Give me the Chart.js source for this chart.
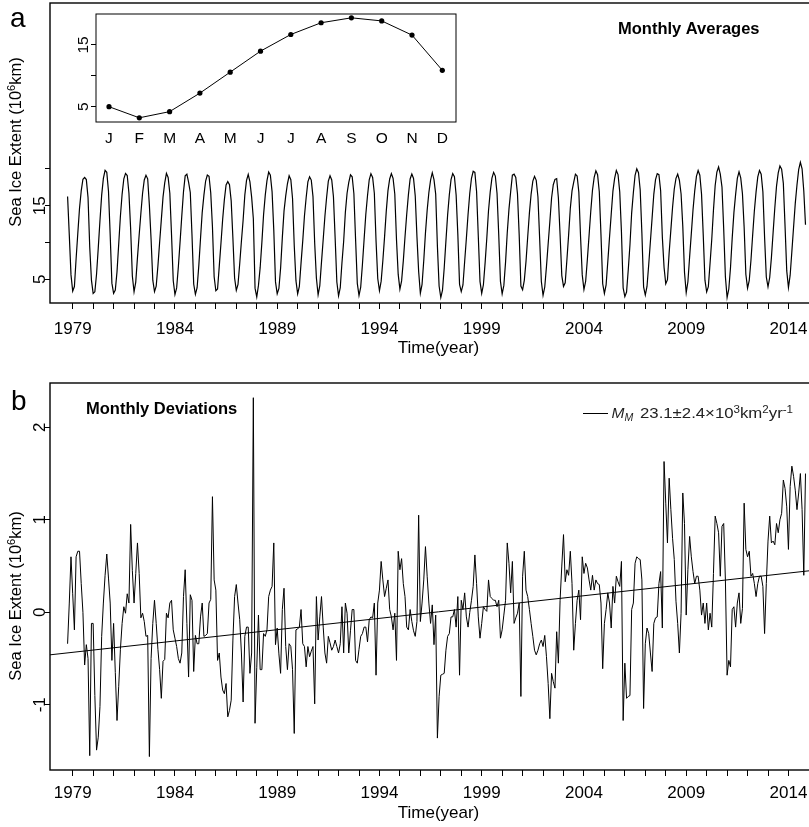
<!DOCTYPE html>
<html>
<head>
<meta charset="utf-8">
<script src="https://cdn.jsdelivr.net/npm/chart.js@4.4.1/dist/chart.umd.min.js"></script>
<style>
  html, body { margin: 0; padding: 0; background: #fff; overflow: hidden; width: 809px; height: 827px; }
  .panel { position: absolute; left: 0; }
</style>
</head>
<body>
<div class="panel" style="top:0;width:840px;height:370px"><canvas id="chartA"></canvas></div>
<div class="panel" style="top:370px;width:840px;height:457px"><canvas id="chartB"></canvas></div>
<div class="panel" style="top:0;width:470px;height:150px"><canvas id="inset"></canvas></div>
<script>
// monthly climatology (inset), 10^6 km2
const climatology = [5.0, 3.2, 4.2, 7.2, 10.6, 14.0, 16.7, 18.6, 19.4, 18.9, 16.6, 10.9];
const monthLetters = ['J', 'F', 'M', 'A', 'M', 'J', 'J', 'A', 'S', 'O', 'N', 'D'];

// axis ticks
const yearTickMarks = [1979, 1980, 1981, 1982, 1983, 1984, 1985, 1986, 1987, 1988, 1989, 1990,
  1991, 1992, 1993, 1994, 1995, 1996, 1997, 1998, 1999, 2000, 2001, 2002, 2003, 2004, 2005,
  2006, 2007, 2008, 2009, 2010, 2011, 2012, 2013, 2014];
const yearTickLabels = [1979, 1984, 1989, 1994, 1999, 2004, 2009, 2014];
const extentTicks = [5, 10, 15, 20];
const extentTickLabels = [5, 15];
const deviationTicks = [-1, 0, 1, 2];
const insetTicks = [5, 10, 15];
const insetTickLabels = [5, 15];

// linear trend of the deviations (M_M)
const trendYears = [1977.89, 2015.885];
const trendValues = [-0.46, 0.47];

// monthly deviations from the climatology, Nov 1978 .. Dec 2014
const monthlyDeviation = [
  -0.34, 0.10,                                                                   // 1978 Nov-Dec
  0.60, 0.20, -0.19, 0.60, 0.66, 0.66, 0.31, 0.00, -0.57, -0.35, -0.50, -1.55,   // 1979
  -0.12, -0.12, -0.90, -1.49, -1.35, -1.02, -0.26, 0.10, 0.40, 0.63, 0.37, 0.10, // 1980
  -0.52, -0.12, -0.65, -1.17, -0.80, -0.40, -0.12, 0.06, -0.01, 0.20, 0.10, 0.95, // 1981
  0.45, 0.10, 0.42, 0.75, 0.42, -0.06, -0.01, -0.10, -0.26, -0.25, -1.56, -0.50, // 1982
  -0.12, 0.13, -0.12, -0.40, -0.62, -0.93, -0.53, -0.51, -0.01, -0.06, 0.10, 0.13, // 1983
  -0.19, -0.28, -0.37, -0.50, -0.55, -0.44, 0.17, 0.46, -0.12, -0.70, 0.19, 0.13, // 1984
  -0.64, -0.25, -0.34, -0.34, -0.05, 0.10, -0.26, -0.25, -0.23, 0.10, 0.14, 1.25, // 1985
  0.35, 0.24, -0.52, -0.44, -0.70, -0.84, -0.88, -0.77, -1.13, -1.06, -0.95, -0.30, // 1986
  0.17, 0.30, 0.10, -0.08, -0.44, -0.97, -0.26, -0.16, -0.16, -0.66, -0.44, 2.32, // 1987
  -1.20, -0.60, -0.03, -0.62, -0.62, -0.23, -0.26, -0.19, 0.17, 0.24, 0.28, 0.75, // 1988
  -0.35, -0.17, -0.45, -0.66, 0.03, 0.26, -0.37, -0.62, -0.34, -0.37, -0.62, -1.31, // 1989
  -0.19, -0.18, -0.16, 0.03, -0.34, -0.37, -0.59, -0.37, -0.48, -0.42, -0.37, -0.99, // 1990
  0.17, -0.30, -0.05, 0.17, -0.16, -0.44, -0.55, -0.26, -0.33, -0.41, -0.37, -0.30, // 1991
  -0.37, -0.44, -0.34, 0.06, -0.44, 0.10, -0.01, -0.44, -0.20, 0.03, 0.03, -0.52, // 1992
  -0.55, -0.40, -0.26, -0.23, -0.16, -0.16, -0.32, -0.08, -0.05, -0.06, 0.10, -0.68, // 1993
  0.10, 0.24, 0.55, 0.35, 0.17, 0.26, 0.35, 0.03, -0.05, -0.19, -0.01, -0.52,    // 1994
  0.66, 0.46, 0.58, 0.31, 0.17, -0.16, -0.19, 0.03, -0.10, -0.20, -0.26, -0.10,  // 1995
  1.05, -0.10, 0.10, 0.35, 0.71, 0.39, 0.10, -0.12, 0.08, -0.35, -0.03, -1.36,   // 1996
  -0.91, -0.68, -0.67, -0.66, -0.41, -0.26, -0.23, -0.05, -0.05, 0.03, -0.16, 0.17, // 1997
  -0.68, 0.13, 0.03, 0.21, -0.05, -0.16, 0.00, 0.13, 0.28, 0.62, 0.31, -0.05,    // 1998
  -0.28, -0.12, 0.06, 0.03, 0.01, 0.35, 0.17, 0.15, 0.13, 0.13, 0.06, 0.13,      // 1999
  -0.28, -0.19, -0.03, 0.13, 0.75, 0.53, 0.21, 0.55, -0.12, -0.06, -0.01, 0.10,  // 2000
  -0.91, 0.39, 0.66, 0.24, 0.17, 0.03, -0.12, -0.26, -0.41, -0.46, -0.41, -0.34, // 2001
  -0.30, -0.37, -0.25, -0.48, -0.77, -1.15, -0.66, -0.75, -0.82, -0.21, -0.55, 0.13, // 2002
  0.50, 0.84, 0.33, 0.46, 0.40, 0.66, 0.31, -0.41, -0.12, 0.13, 0.24, -0.08,     // 2003
  0.60, 0.42, 0.53, 0.48, 0.35, 0.24, 0.40, 0.24, 0.35, 0.31, 0.30, 0.10,        // 2004
  -0.61, -0.12, 0.03, 0.21, 0.10, -0.17, 0.28, 0.10, 0.39, 0.33, 0.28, 0.55,     // 2005
  -1.17, -0.55, -0.93, -0.91, -0.90, 0.03, 0.10, 0.53, 0.60, 0.58, 0.57, 0.35,   // 2006
  -1.04, -0.34, -0.17, -0.23, -0.44, -0.64, -0.12, -0.06, -0.05, 0.31, 0.44, -0.17, // 2007
  1.63, 1.18, 0.75, 1.45, 1.11, 0.80, 0.57, 0.12, -0.12, -0.44, -0.01, 1.29,     // 2008
  0.96, -0.03, 0.46, 0.82, 0.60, 0.44, 0.31, 0.39, 0.39, 0.24, -0.03, 0.10,      // 2009
  -0.12, 0.10, -0.19, -0.01, -0.16, 0.42, 1.04, 0.96, 0.86, 0.39, 0.93, 0.96,    // 2010
  0.35, -0.68, -0.52, -0.59, 0.03, 0.06, -0.16, 0.10, 0.21, -0.12, 0.04, 1.18,   // 2011
  0.68, 0.60, 0.66, 0.39, 0.42, 0.31, 0.17, 0.31, 0.39, 0.39, 0.28, -0.23,       // 2012
  0.31, 0.77, 1.04, 0.75, 0.77, 0.73, 0.96, 0.86, 1.00, 1.07, 1.43, 1.34,        // 2013
  1.14, 0.68, 1.36, 1.58, 1.47, 1.32, 1.11, 1.29, 1.50, 1.11, 0.40, 1.50         // 2014
];

// first sample (Nov 1978) sits at 1978.75 on the time axis, one month per step
const firstTime = 1978.75;
const firstMonth = 10; // November, 0-based
const monthTime = monthlyDeviation.map((d, k) => firstTime + k / 12);
// extent = monthly average + deviation
const extent = monthlyDeviation.map((d, k) => climatology[(firstMonth + k) % 12] + d);

const FONT = '"Liberation Sans", Arial, Helvetica, sans-serif';
const X_MIN = 1977.89, X_MAX = 2015.885;

function rotText(ctx, txt, x, y, font) {
  ctx.save();
  ctx.translate(x, y);
  ctx.rotate(-Math.PI / 2);
  ctx.font = font;
  ctx.textAlign = 'center';
  ctx.textBaseline = 'alphabetic';
  ctx.fillText(txt, 0, 0);
  ctx.restore();
}

function piecesWidth(ctx, parts) {
  let w = 0;
  parts.forEach(p => { ctx.font = p.font; w += ctx.measureText(p.t).width; });
  return w;
}

// draws pieces of text one after another (superscripts etc.)
function pieces(ctx, parts, x, y, align) {
  const w = piecesWidth(ctx, parts);
  let cx = align === 'center' ? x - w / 2 : x;
  ctx.textAlign = 'left';
  ctx.textBaseline = 'alphabetic';
  parts.forEach(p => {
    ctx.font = p.font;
    ctx.fillText(p.t, cx, y + (p.dy || 0));
    cx += ctx.measureText(p.t).width;
  });
}

function yTitle(ctx, x, y) {
  ctx.save();
  ctx.translate(x, y);
  ctx.rotate(-Math.PI / 2);
  pieces(ctx, [
    { t: 'Sea Ice Extent (10', font: '16.5px ' + FONT },
    { t: '6', font: '11px ' + FONT, dy: -6 },
    { t: 'km)', font: '16.5px ' + FONT }
  ], 0, 0, 'center');
  ctx.restore();
}

function frame(ctx, ca, lw) {
  ctx.save();
  ctx.strokeStyle = '#000';
  ctx.lineWidth = lw;
  ctx.strokeRect(ca.left, ca.top, ca.right - ca.left, ca.bottom - ca.top);
  ctx.restore();
}

function yearLabels(chart, baseline) {
  const ctx = chart.ctx;
  ctx.fillStyle = '#000';
  ctx.font = '17px ' + FONT;
  ctx.textAlign = 'center';
  ctx.textBaseline = 'alphabetic';
  yearTickLabels.forEach(v => ctx.fillText(String(v), chart.scales.x.getPixelForValue(v), baseline));
}

function timeScale(height) {
  return {
    type: 'linear', min: X_MIN, max: X_MAX,
    afterBuildTicks: s => { s.ticks = yearTickMarks.map(v => ({ value: v })); },
    afterFit: s => { s.height = height; },
    ticks: { display: false },
    grid: { display: true, drawOnChartArea: false, drawTicks: true, tickLength: 6, color: '#000', lineWidth: 1 },
    border: { display: false }
  };
}

function valueScale(min, max, ticks, width) {
  return {
    type: 'linear', min: min, max: max,
    afterBuildTicks: s => { s.ticks = ticks.map(v => ({ value: v })); },
    afterFit: s => { s.width = width; },
    ticks: { display: false },
    grid: { display: true, drawOnChartArea: false, drawTicks: true, tickLength: 5, color: '#000', lineWidth: 1 },
    border: { display: false }
  };
}

const common = {
  responsive: true,
  maintainAspectRatio: false,
  animation: false,
  events: [],
  plugins: { legend: { display: false }, tooltip: { enabled: false } }
};

// ---- panel a ----
new Chart(document.getElementById('chartA'), {
  type: 'line',
  data: {
    datasets: [{
      data: extent.map((v, k) => ({ x: monthTime[k], y: v })),
      borderColor: '#000', borderWidth: 1.2, pointRadius: 0, tension: 0, fill: false
    }]
  },
  options: {
    ...common,
    layout: { autoPadding: false, padding: { top: 3, right: 13, left: 0, bottom: 0 } },
    scales: {
      x: timeScale(67),
      y: valueScale(1.78, 42.54, extentTicks, 50)
    }
  },
  plugins: [{
    id: 'panelA',
    afterDraw(chart) {
      const ctx = chart.ctx, ca = chart.chartArea;
      frame(ctx, ca, 1.4);
      ctx.fillStyle = '#000';
      yearLabels(chart, 334);
      extentTickLabels.forEach(v => rotText(ctx, String(v), 44.5, chart.scales.y.getPixelForValue(v), '17px ' + FONT));
      yTitle(ctx, 20.5, 142);
      ctx.font = '17px ' + FONT;
      ctx.textAlign = 'center';
      ctx.fillText('Time(year)', (ca.left + ca.right) / 2, 353);
      ctx.textAlign = 'left';
      ctx.font = '28px ' + FONT;
      ctx.fillText('a', 10, 27);
      ctx.font = 'bold 16.5px ' + FONT;
      ctx.fillText('Monthly Averages', 618, 33.5);
    }
  }]
});

// ---- panel b ----
new Chart(document.getElementById('chartB'), {
  type: 'line',
  data: {
    datasets: [{
      data: monthlyDeviation.map((v, k) => ({ x: monthTime[k], y: v })),
      borderColor: '#000', borderWidth: 1, pointRadius: 0, tension: 0, fill: false
    }, {
      data: trendYears.map((t, i) => ({ x: t, y: trendValues[i] })),
      borderColor: '#000', borderWidth: 1, pointRadius: 0, tension: 0, fill: false
    }]
  },
  options: {
    ...common,
    layout: { autoPadding: false, padding: { top: 13, right: 13, left: 0, bottom: 0 } },
    scales: {
      x: timeScale(57),
      y: valueScale(-1.705, 2.479, deviationTicks, 50)
    }
  },
  plugins: [{
    id: 'panelB',
    afterDraw(chart) {
      const ctx = chart.ctx, ca = chart.chartArea;
      frame(ctx, ca, 1.4);
      ctx.fillStyle = '#000';
      yearLabels(chart, 428);
      deviationTicks.forEach(v => rotText(ctx, String(v), 44.5, chart.scales.y.getPixelForValue(v), '17px ' + FONT));
      yTitle(ctx, 20.5, 226);
      ctx.font = '17px ' + FONT;
      ctx.textAlign = 'center';
      ctx.fillText('Time(year)', (ca.left + ca.right) / 2, 448);
      ctx.textAlign = 'left';
      ctx.font = '28px ' + FONT;
      ctx.fillText('b', 11, 40);
      ctx.font = 'bold 16.5px ' + FONT;
      ctx.fillText('Monthly Deviations', 86, 43.5);
      // legend
      ctx.beginPath();
      ctx.lineWidth = 1;
      ctx.strokeStyle = '#000';
      ctx.moveTo(583, 43.5);
      ctx.lineTo(608, 43.5);
      ctx.stroke();
      ctx.fillStyle = '#222';
      pieces(ctx, [
        { t: 'M', font: 'italic 15.5px ' + FONT },
        { t: 'M', font: 'italic 10.5px ' + FONT, dy: 3 }
      ], 611.5, 48, 'left');
      const big = '14.5px ' + FONT, small = '10px ' + FONT;
      const rate = [
        { t: '23.1\u00b12.4\u00d710', font: big },
        { t: '3', font: small, dy: -5 },
        { t: 'km', font: big },
        { t: '2', font: small, dy: -5 },
        { t: 'yr', font: big },
        { t: '-1', font: small, dy: -5 }
      ];
      // stretch to the span the rate text covers in the figure (640 to 793)
      const w = piecesWidth(ctx, rate);
      ctx.save();
      ctx.translate(640, 48);
      ctx.scale(153 / w, 1);
      pieces(ctx, rate, 0, 0, 'left');
      ctx.restore();
    }
  }]
});

// ---- inset: monthly averages ----
new Chart(document.getElementById('inset'), {
  type: 'line',
  data: {
    datasets: [{
      data: climatology.map((v, i) => ({ x: i + 1, y: v })),
      borderColor: '#000', borderWidth: 1, backgroundColor: '#000',
      pointRadius: 2.6, pointBorderWidth: 0, tension: 0, fill: false
    }]
  },
  options: {
    ...common,
    layout: { autoPadding: false, padding: { top: 14, right: 14, left: 0, bottom: 0 } },
    scales: {
      x: {
        type: 'linear', min: 0.571, max: 12.452,
        afterFit: s => { s.height = 28; },
        ticks: { display: false },
        grid: { display: false },
        border: { display: false }
      },
      y: valueScale(2.52, 20.02, insetTicks, 96)
    }
  },
  plugins: [{
    id: 'insetText',
    afterDraw(chart) {
      const ctx = chart.ctx, ca = chart.chartArea;
      frame(ctx, ca, 1);
      ctx.fillStyle = '#000';
      ctx.font = '15.5px ' + FONT;
      ctx.textAlign = 'center';
      ctx.textBaseline = 'alphabetic';
      monthLetters.forEach((m, i) => ctx.fillText(m, chart.scales.x.getPixelForValue(i + 1), 143));
      insetTickLabels.forEach(v => rotText(ctx, String(v), 88, chart.scales.y.getPixelForValue(v), '15.5px ' + FONT));
    }
  }]
});
</script>
</body>
</html>
